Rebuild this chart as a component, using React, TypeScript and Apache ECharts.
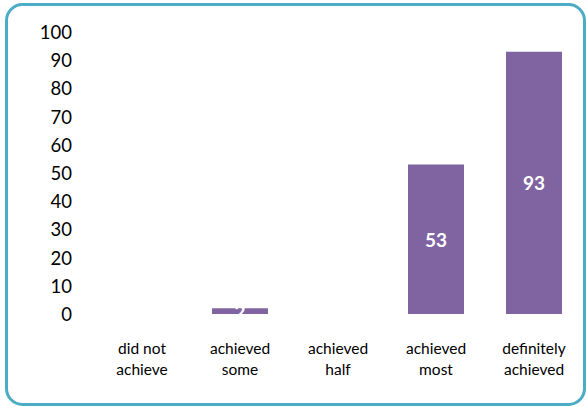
import React, { useEffect, useRef } from "react";
import * as echarts from "echarts";

const categories = ["did not\nachieve", "achieved\nsome", "achieved\nhalf", "achieved\nmost", "definitely\nachieved"];
const values = [0, 2, 0, 53, 93];
const yMin = 0;
const yMax = 100;
const yInterval = 10;

export default function App() {
  const ref = useRef<HTMLDivElement>(null);
  useEffect(() => {
    if (!ref.current) return;
    const chart = echarts.init(ref.current, null, { renderer: "svg" });
    chart.setOption({
      animation: false,
      backgroundColor: "#ffffff",
      graphic: [
        {
          type: "rect",
          shape: { x: 6.5, y: 4.5, width: 578, height: 400, r: 16 },
          style: { fill: "none", stroke: "#4bacc6", lineWidth: 3 },
          silent: true,
        },
      ],
      grid: { left: 93, right: 3, top: 32, bottom: 93, containLabel: false },
      xAxis: {
        type: "category",
        data: categories,
        axisLine: { show: false },
        axisTick: { show: false },
        axisLabel: {
          color: "#000",
          fontFamily: "Lato",
          fontSize: 15.5,
          lineHeight: 21,
          margin: 23,
          interval: 0,
        },
      },
      yAxis: {
        type: "value",
        min: yMin,
        max: yMax,
        interval: yInterval,
        axisLine: { show: false },
        axisTick: { show: false },
        splitLine: { show: false },
        axisLabel: {
          color: "#000",
          fontFamily: "Lato",
          fontSize: 18.5,
          margin: 21,
        },
      },
      series: [
        {
          type: "bar",
          data: values,
          barWidth: 56,
          itemStyle: { color: "#8064a2" },
          label: {
            show: true,
            position: "inside",
            color: "#ffffff",
            fontFamily: "Lato",
            fontWeight: "bold",
            fontSize: 19,
            formatter: (p: any) => (p.value === 0 ? "" : String(p.value)),
          },
        },
      ],
    });
    return () => chart.dispose();
  }, []);
  return <div ref={ref} style={{ position: "fixed", left: 0, top: 0, width: 586, height: 407 }} />;
}
